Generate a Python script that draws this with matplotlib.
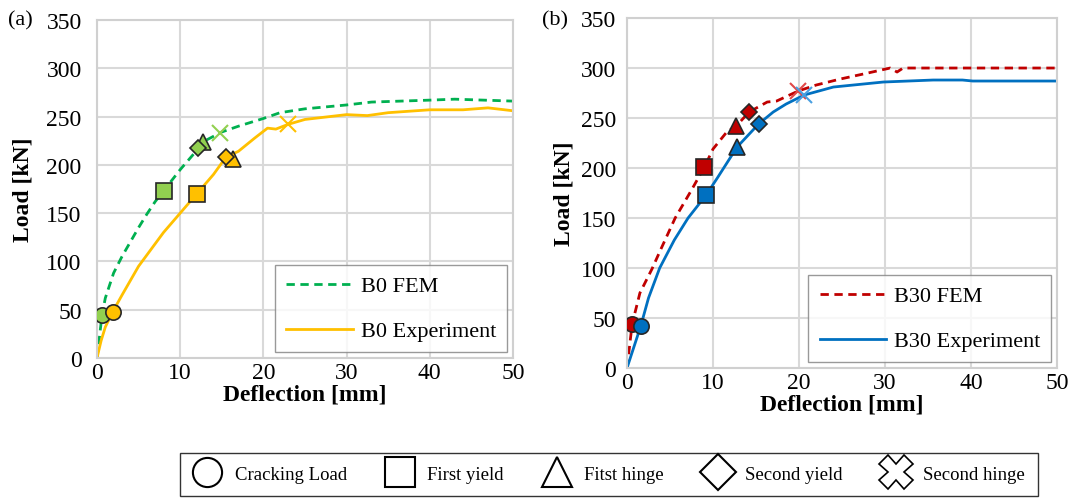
import matplotlib
matplotlib.use("Agg")
import matplotlib.pyplot as plt
from matplotlib.lines import Line2D

plt.rcParams['font.family'] = ['Liberation Serif', 'DejaVu Serif']

# ---- (a) beam B0 ----
b0_fem_x = [0, 0.6, 1, 2, 3, 4, 5, 6, 7, 8, 10, 12, 13, 15, 17, 20, 22, 25, 30, 33, 40, 43, 50]
b0_fem_y = [0, 44, 62, 88, 105, 120, 135, 149, 162, 173, 195, 215, 225, 234, 240, 248, 254, 258, 262, 265, 267, 268, 266]
b0_exp_x = [0, 0.5, 1, 1.9, 3, 5, 8, 10, 12, 14, 15.5, 17, 19, 20.5, 21.5, 23, 25, 28, 30, 32.5, 35, 40, 44, 47, 50]
b0_exp_y = [0, 18, 32, 48, 65, 95, 130, 150, 170, 190, 208, 214, 228, 238, 237, 242, 247, 250, 252, 251, 254, 257, 257, 259, 256]

# events: cracking, first yield, first hinge, second yield, second hinge
b0_fem_ev_x = [0.6, 8.0, 12.8, 12.2, 14.8]
b0_fem_ev_y = [44, 173, 224, 217, 233]
b0_exp_ev_x = [1.9, 12.0, 16.3, 15.5, 23.0]
b0_exp_ev_y = [48, 170, 206, 208, 242]

# ---- (b) beam B30 ----
b30_fem_x = [0, 0.6, 1.5, 2.9, 4, 5.6, 7.5, 9, 10, 11.6, 12.7, 14.2, 16.3, 17.4, 19.9, 22, 24.8, 28, 30.6, 31.4, 32.1, 40, 50]
b30_fem_y = [0, 44, 75, 99, 120, 150, 178, 201, 219, 236, 242, 256, 266, 267, 277, 283, 289, 295, 300, 296, 300, 300, 300]
b30_exp_x = [0, 1.6, 2.5, 3.8, 5.5, 7.1, 9.2, 10.5, 12.8, 15.3, 17, 18.5, 20.6, 24, 29.8, 35.6, 39, 40.2, 50]
b30_exp_y = [0, 42, 70, 100, 128, 150, 173, 190, 221, 244, 256, 264, 273, 281, 286, 288, 288, 287, 287]

b30_fem_ev_x = [0.6, 9.0, 12.7, 14.2, 19.9]
b30_fem_ev_y = [44, 201, 242, 256, 277]
b30_exp_ev_x = [1.6, 9.2, 12.8, 15.3, 20.6]
b30_exp_ev_y = [42, 173, 221, 244, 273]

event_names = ['Cracking Load', 'First yield', 'Fitst hinge', 'Second yield', 'Second hinge']
event_markers = ['o', 's', '^', 'D', 'x']
event_sizes = [11, 11, 11, 8, 12]

fig = plt.figure(figsize=(10.74, 5.02), dpi=100)
ax_a = fig.add_axes([0.0903, 0.2849, 0.3873, 0.6733])
ax_b = fig.add_axes([0.5838, 0.2649, 0.4004, 0.6972])


def draw_events(ax, xs, ys, face, xcolor):
    for x, y, m, s in zip(xs, ys, event_markers, event_sizes):
        if m == 'x':
            ax.plot(x, y, marker=m, ms=s, color=xcolor, mew=1.5, ls='none', zorder=5)
        else:
            ax.plot(x, y, marker=m, ms=s, mfc=face, mec='#262626', mew=1.2, ls='none', zorder=5)


def style_axes(ax, ypad, ylabelpad):
    ax.set_xlim(0, 50)
    ax.set_ylim(0, 350)
    ax.set_xticks(range(0, 51, 10))
    ax.set_yticks(range(0, 351, 50))
    ax.grid(True, color='#d9d9d9', lw=1.5)
    ax.set_axisbelow(True)
    for s in ax.spines.values():
        s.set_color('#d0d0d0')
        s.set_linewidth(1.5)
    ax.tick_params(length=0, labelsize=17)
    ax.tick_params(axis='x', pad=3)
    ax.tick_params(axis='y', pad=ypad)
    ax.set_xlabel('Deflection [mm]', fontsize=17, fontweight='bold', labelpad=0)
    ax.set_ylabel('Load [kN]', fontsize=17, fontweight='bold', labelpad=ylabelpad)


legend_kw = dict(loc='lower right', fontsize=16, frameon=True, fancybox=False, edgecolor='#808080',
                 labelspacing=1.1, borderpad=0.5, handlelength=3.0, handletextpad=0.35,
                 borderaxespad=0.25)

# panel (a)
ax_a.plot(b0_fem_x, b0_fem_y, color='#00b050', ls=(0, (3, 2)), lw=2, label='B0 FEM')
ax_a.plot(b0_exp_x, b0_exp_y, color='#ffc000', lw=2, label='B0 Experiment')
draw_events(ax_a, b0_fem_ev_x, b0_fem_ev_y, '#92d050', '#92d050')
draw_events(ax_a, b0_exp_ev_x, b0_exp_ev_y, '#ffc000', '#ffc000')
style_axes(ax_a, 11, 9)
ax_a.legend(**legend_kw)

# panel (b)
ax_b.plot(b30_fem_x, b30_fem_y, color='#c00000', ls=(0, (3, 2)), lw=2, label='B30 FEM')
ax_b.plot(b30_exp_x, b30_exp_y, color='#0070c0', lw=2, label='B30 Experiment')
draw_events(ax_b, b30_fem_ev_x, b30_fem_ev_y, '#c00000', '#e04848')
draw_events(ax_b, b30_exp_ev_x, b30_exp_ev_y, '#0070c0', '#4a9fe0')
style_axes(ax_b, 8, 4)
ax_b.legend(**legend_kw)

fig.text(0.007, 0.958, '(a)', fontsize=16, va='center')
fig.text(0.505, 0.958, '(b)', fontsize=16, va='center')

# shared marker key
handles = []
for m, name in zip(event_markers, event_names):
    if m == 'x':
        handles.append(Line2D([], [], marker='X', ms=24, mfc='white', mec='black', mew=1.2, ls='none', label=name))
    else:
        handles.append(Line2D([], [], marker=m, ms=21 if m != 'D' else 18, mfc='white', mec='black',
                              mew=1.5, ls='none', label=name))
fig.legend(handles=handles, loc='center', bbox_to_anchor=(0.567, 0.053), ncol=5, fontsize=13.5,
           frameon=True, fancybox=False, edgecolor='black', columnspacing=2.1, handletextpad=0.7,
           borderpad=0.7, handlelength=1.5)

fig.savefig('out.png', dpi=100)
